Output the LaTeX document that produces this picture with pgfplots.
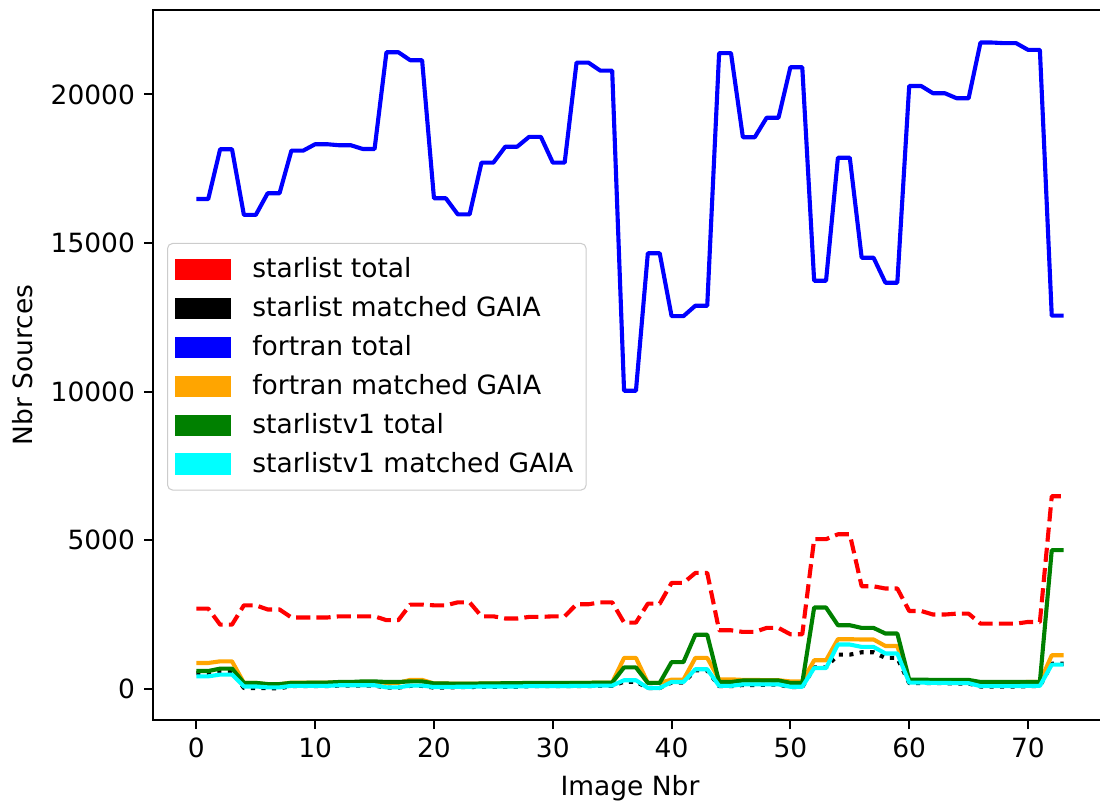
\documentclass[border=0pt]{standalone}
\usepackage{fontspec}
\setmainfont{DejaVu Sans}
\usepackage{pgfplots}
\usepackage{pgfplotstable}
\pgfplotsset{compat=1.18}
\definecolor{mplorange}{HTML}{FFA500}
\definecolor{mplgreen}{HTML}{008000}
\definecolor{mplcyan}{HTML}{00FFFF}
\definecolor{mplblue}{HTML}{0000FF}
\definecolor{mplred}{HTML}{FF0000}
\pgfplotstableread{
x red black blue orange green cyan
0 2700 530 16480 870 600 420
1 2700 530 16480 870 600 420
2 2160 590 18155 925 680 480
3 2160 590 18155 925 680 480
4 2810 30 15945 200 200 80
5 2810 30 15945 200 200 80
6 2670 20 16675 150 160 50
7 2670 20 16675 150 160 50
8 2400 90 18110 210 200 100
9 2400 90 18110 210 200 100
10 2400 90 18325 210 210 100
11 2400 90 18325 210 210 100
12 2440 110 18290 220 230 120
13 2440 110 18290 220 230 120
14 2440 110 18165 230 250 120
15 2440 110 18165 230 250 120
16 2310 40 21420 200 230 50
17 2310 40 21420 200 230 50
18 2835 100 21150 300 250 110
19 2835 100 21150 300 250 110
20 2810 40 16505 180 180 60
21 2810 40 16505 180 180 60
22 2910 60 15965 170 170 70
23 2910 60 15965 170 170 70
24 2440 70 17705 180 180 80
25 2440 70 17705 180 180 80
26 2365 70 18240 180 190 80
27 2365 70 18240 180 190 80
28 2420 90 18570 190 200 90
29 2420 90 18570 190 200 90
30 2440 90 17705 190 200 90
31 2440 90 17705 190 200 90
32 2845 90 21070 200 200 100
33 2845 90 21070 200 200 100
34 2910 100 20800 210 210 110
35 2910 100 20800 210 210 110
36 2230 240 10030 1040 720 290
37 2230 240 10030 1040 720 290
38 2865 30 14655 200 200 30
39 2865 30 14655 200 200 30
40 3565 210 12540 310 900 230
41 3565 210 12540 310 900 230
42 3900 620 12890 1040 1820 660
43 3900 620 12890 1040 1820 660
44 1970 90 21390 320 230 100
45 1970 90 21390 320 230 100
46 1915 130 18560 300 280 150
47 1915 130 18560 300 280 150
48 2050 140 19215 290 280 150
49 2050 140 19215 290 280 150
50 1835 60 20915 250 200 70
51 1835 60 20915 250 200 70
52 5035 720 13730 960 2735 700
53 5035 720 13730 960 2735 700
54 5200 1150 17870 1670 2140 1490
55 5200 1150 17870 1670 2140 1490
56 3450 1230 14505 1660 2050 1410
57 3450 1230 14505 1660 2050 1410
58 3375 1040 13665 1440 1860 1190
59 3375 1040 13665 1440 1860 1190
60 2620 190 20285 250 310 210
61 2620 190 20285 250 310 210
62 2500 190 20040 240 300 200
63 2500 190 20040 240 300 200
64 2530 180 19870 240 300 190
65 2530 180 19870 240 300 190
66 2195 80 21745 220 230 90
67 2195 80 21745 220 230 90
68 2195 80 21725 220 230 90
69 2195 80 21725 220 230 90
70 2250 90 21500 230 230 100
71 2250 90 21500 230 230 100
72 6480 845 12555 1130 4665 815
73 6480 845 12555 1130 4665 815
}\datatable
\begin{document}
\begin{tikzpicture}
\useasboundingbox (0,0) rectangle (427.9pt,312.0pt);
\begin{axis}[
  at={(59.52pt,31.9pt)}, anchor=south west,
  scale only axis, width=371.1pt, height=276.2pt,
  xmin=-3.65, xmax=76.65, ymin=-1050, ymax=22840,
  xtick={0,10,...,70}, ytick={0,5000,...,20000},
  scaled ticks=false,
  /pgf/number format/assume math mode=true,
  yticklabel style={/pgf/number format/1000 sep={}},
  tick pos=left, tick align=outside, major tick length=3.5pt,
  tick style={black, line width=0.8pt},
  axis line style={line width=0.8pt},
  tick label style={font=\fontsize{10.3}{12.4}\selectfont},
  label style={font=\fontsize{10.3}{12.4}\selectfont},
  xlabel={Image Nbr}, ylabel={Nbr Sources},
  legend cell align=left,
  legend style={at={(0.0147,0.672)}, anchor=north west, draw=black!20,
    rounded corners=2pt, fill=white, fill opacity=0.8, text opacity=1,
    inner xsep=3pt, inner ysep=3.5pt, row sep=1.8pt,
    font=\fontsize{10.3}{12.4}\selectfont},
  legend image code/.code={%
    \fill[#1, draw=none, fill opacity=1, solid, sharp corners] (0pt,-4.1pt) rectangle (21.8pt,4.1pt);
    \path[draw=none, fill=none] (0pt,0pt) -- (28pt,0pt);},
  every axis plot/.append style={line join=round, line width=1.6pt},
]
\addplot[mplred, dash pattern=on 5.5pt off 2.4pt] table[x=x,y=red] {\datatable};
\addlegendentry{starlist total}
\addplot[black, dash pattern=on 1.6pt off 2.5pt] table[x=x,y=black] {\datatable};
\addlegendentry{starlist matched GAIA}
\addplot[mplblue] table[x=x,y=blue] {\datatable};
\addlegendentry{fortran total}
\addplot[mplorange] table[x=x,y=orange] {\datatable};
\addlegendentry{fortran matched GAIA}
\addplot[mplgreen] table[x=x,y=green] {\datatable};
\addlegendentry{starlistv1 total}
\addplot[mplcyan] table[x=x,y=cyan] {\datatable};
\addlegendentry{starlistv1 matched GAIA}
\end{axis}
\end{tikzpicture}
\end{document}
